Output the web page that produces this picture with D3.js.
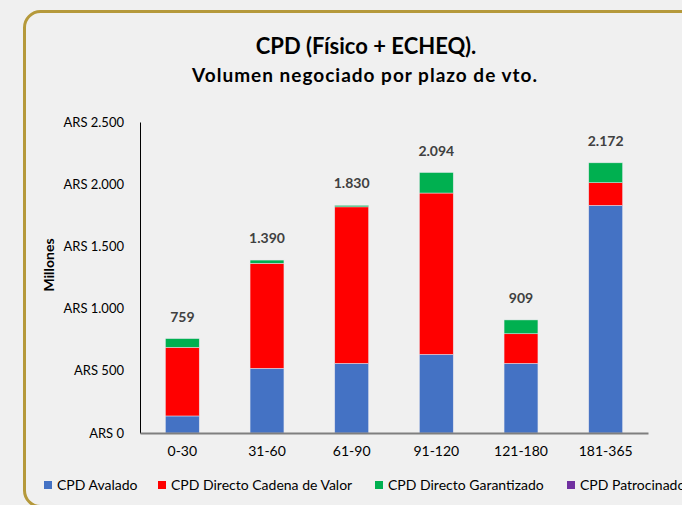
<!DOCTYPE html>
<html><head><meta charset="utf-8">
<script src="https://cdn.jsdelivr.net/npm/d3@7"></script>
<style>body{margin:0;background:#F0F0F0;}svg{display:block;}</style>
</head><body>
<svg id="c" width="682" height="505"></svg>
<script>
const categories = ["0-30","31-60","61-90","91-120","121-180","181-365"];
const seriesNames = ["CPD Avalado","CPD Directo Cadena de Valor","CPD Directo Garantizado","CPD Patrocinado"];
const avalado = [137, 520, 560, 632, 560, 1830];
const cadenaValor = [552, 844, 1258, 1297, 238, 182];
const garantizado = [70, 26, 12, 165, 111, 160];
const patrocinado = [0, 0, 0, 0, 0, 0];
const totals = [759, 1390, 1830, 2094, 909, 2172];
const yTicks = [0, 500, 1000, 1500, 2000, 2500];
const colors = ["#4472C4", "#FF0000", "#00B050", "#7030A0"];

const svg = d3.select("#c");
const font = "Lato, 'Open Sans', sans-serif";

svg.append("rect").attr("width",682).attr("height",505).attr("fill","#F0F0F0");
svg.append("rect").attr("x",24.5).attr("y",11.5).attr("width",720).attr("height",495)
  .attr("rx",16).attr("fill","#F0F0F0").attr("stroke","#B5993B").attr("stroke-width",3);

svg.append("text").attr("x",366).attr("y",54).attr("text-anchor","middle")
  .attr("font-family",font).attr("font-weight","bold").attr("font-size",22).attr("fill","#000")
  .text("CPD (Físico + ECHEQ).");
svg.append("text").attr("x",365).attr("y",81.5).attr("text-anchor","middle")
  .attr("font-family",font).attr("font-weight","bold").attr("font-size",19).attr("letter-spacing",1)
  .attr("fill","#000")
  .text("Volumen negociado por plazo de vto.");

const x = d3.scaleBand().domain(categories).range([140,648]).paddingInner(0.6).paddingOuter(0.3);
const y = d3.scaleLinear().domain([0,2500]).range([433,122]);

const rows = categories.map((c,i)=>({cat:c, a:avalado[i], r:cadenaValor[i], g:garantizado[i], p:patrocinado[i]}));
const stack = d3.stack().keys(["a","r","g","p"])(rows);

const gBars = svg.append("g");
stack.forEach((s,si)=>{
  gBars.selectAll(null).data(s).join("rect")
    .attr("x",d=>x(d.data.cat)).attr("width",x.bandwidth())
    .attr("y",d=>y(d[1])).attr("height",d=>Math.max(0,y(d[0])-y(d[1])))
    .attr("fill",colors[si]).attr("stroke","#E8E8F0").attr("stroke-width",0.6)
    .attr("stroke-opacity",d=>(d[1]-d[0])>0?0.8:0);
});

// y axis
const yAxis = svg.append("g").attr("transform","translate(140,0)")
  .call(d3.axisLeft(y).tickValues(yTicks).tickSize(0).tickPadding(16)
    .tickFormat(v=>"ARS "+d3.format(",")(v).replace(/,/g,".")));
yAxis.select(".domain").attr("stroke","#000").attr("stroke-width",1);
yAxis.selectAll("text").attr("font-family",font).attr("font-size",13).attr("fill","#000");

// x axis
const xAxis = svg.append("g").attr("transform","translate(0,433)")
  .call(d3.axisBottom(x).tickSize(0).tickPadding(13));
xAxis.select(".domain").attr("stroke","#7F7F7F").attr("stroke-width",2);
xAxis.selectAll("text").attr("font-family",font).attr("font-size",14).attr("fill","#000");

// totals
svg.append("g").selectAll("text").data(categories).join("text")
  .attr("x",d=>x(d)+x.bandwidth()/2).attr("y",(d,i)=>y(totals[i])-17)
  .attr("text-anchor","middle").attr("font-family",font).attr("font-weight","bold")
  .attr("font-size",14).attr("fill","#404040")
  .text((d,i)=>d3.format(",")(totals[i]).replace(/,/g,"."));

// y title
svg.append("text").attr("transform","translate(54,265) rotate(-90)").attr("text-anchor","middle")
  .attr("font-family",font).attr("font-weight","bold").attr("font-size",14).attr("fill","#000")
  .text("Millones");

// legend
const legX = [44, 158, 375, 567];
const leg = svg.append("g");
seriesNames.forEach((n,i)=>{
  leg.append("rect").attr("x",legX[i]).attr("y",481).attr("width",8).attr("height",8).attr("fill",colors[i]);
  leg.append("text").attr("x",legX[i]+13).attr("y",490).attr("font-family",font)
    .attr("font-size",14).attr("fill","#000").text(n);
});
</script>
</body></html>
